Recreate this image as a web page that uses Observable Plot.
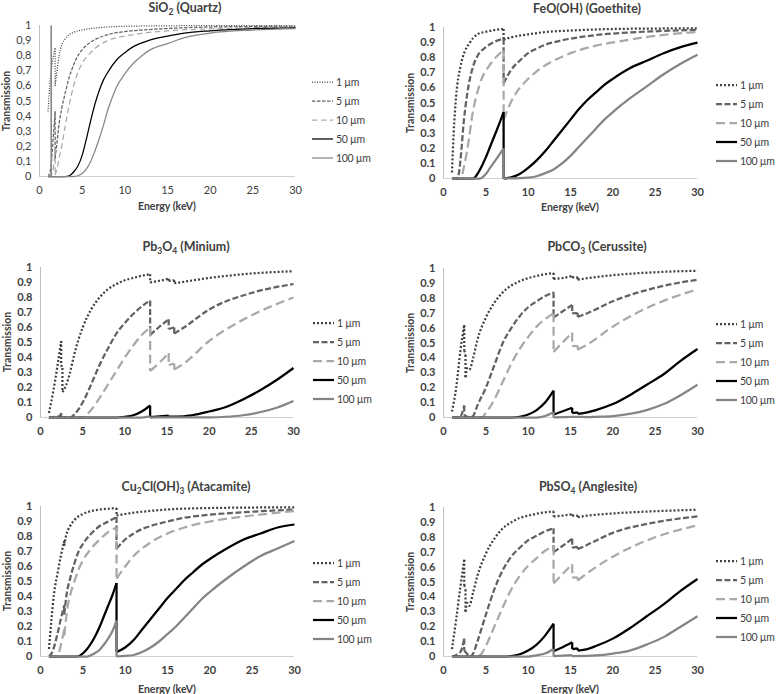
<!DOCTYPE html>
<html>
<head>
<meta charset="utf-8">
<script src="https://cdn.jsdelivr.net/npm/d3@7"></script>
<script src="https://cdn.jsdelivr.net/npm/@observablehq/plot@0.6"></script>
<style>
  body { margin: 0; background: #fff; }
  #chart { position: relative; width: 778px; height: 694px; font-family: Lato, "Open Sans", sans-serif; color: #404040; overflow: hidden; }
  .ttl { position: absolute; font-weight: bold; font-size: 12.5px; white-space: nowrap; transform: translate(-50%, -50%); color: #404040; }
  .ttl span.sb { font-size: 8.5px; vertical-align: -3px; }
  .ax { position: absolute; font-weight: bold; font-size: 10.5px; white-space: nowrap; transform: translate(-50%, -50%); color: #404040; }
  .ax.rot { transform: translate(-50%, -50%) rotate(-90deg); }
  .lg { position: absolute; font-size: 10.5px; letter-spacing: -0.3px; white-space: pre; display: flex; align-items: center; height: 14px; color: #404040; }
  .lg svg { margin-right: 3px; }
</style>
</head>
<body>
<div id="chart"></div>
<script>
// ---------- tick values and labels ----------
const yTicks = [0, 0.1, 0.2, 0.3, 0.4, 0.5, 0.6, 0.7, 0.8, 0.9, 1];
const yTickLabelsDot = ["0", "0.1", "0.2", "0.3", "0.4", "0.5", "0.6", "0.7", "0.8", "0.9", "1"];
const yTickLabelsComma = ["0", "0,1", "0,2", "0,3", "0,4", "0,5", "0,6", "0,7", "0,8", "0,9", "1"];
const xTicks = [0, 5, 10, 15, 20, 25, 30];
const seriesNames = ["1 µm", "5 µm", "10 µm", "50 µm", "100 µm"];

// ---------- data: [energy keV, transmission] ----------
// SiO2 (Quartz)
const quartz1 = [[1,0.43],[1.2,0.6],[1.5,0.75],[1.83,0.85],[1.83,0.6],[2,0.68],[2.3,0.8],[2.65,0.88],[3,0.91],[3.5,0.94],[4,0.955],[5,0.97],[6,0.98],[8,0.99],[10,0.995],[15,0.998],[30,1]];
const quartz5 = [[1,0],[1.3,0.05],[1.6,0.25],[1.83,0.43],[1.83,0.12],[2,0.2],[2.3,0.35],[2.6,0.45],[3,0.55],[3.5,0.66],[4,0.74],[4.5,0.8],[5,0.84],[6,0.89],[7,0.92],[8,0.94],[10,0.96],[12,0.97],[15,0.98],[20,0.99],[30,0.995]];
const quartz10 = [[1,0],[1.5,0.02],[1.83,0.18],[1.83,0.01],[2,0.04],[2.3,0.12],[2.6,0.2],[3,0.33],[3.5,0.48],[4,0.6],[4.5,0.69],[5,0.75],[6,0.82],[7,0.87],[8,0.9],[10,0.93],[12,0.948],[15,0.965],[20,0.978],[30,0.99]];
const quartz50 = [[1,0],[3,0],[3.5,0.005],[4,0.03],[4.5,0.07],[5,0.14],[5.5,0.25],[6,0.37],[6.5,0.48],[7,0.57],[7.5,0.64],[8,0.69],[9,0.77],[10,0.82],[11,0.86],[12,0.885],[13,0.905],[15,0.93],[17,0.95],[20,0.965],[25,0.98],[30,0.985]];
const quartz100 = [[1,0],[1.38,0],[1.38,1],[1.38,0],[4,0],[4.5,0.005],[5,0.02],[5.5,0.05],[6,0.1],[6.5,0.17],[7,0.25],[7.5,0.34],[8,0.44],[8.5,0.52],[9,0.59],[10,0.68],[11,0.75],[12,0.8],[13,0.84],[15,0.88],[17,0.92],[20,0.95],[25,0.97],[30,0.98]];

// FeO(OH) (Goethite)
const goethite1 = [[1,0.04],[1.2,0.3],[1.5,0.55],[2,0.74],[2.5,0.84],[3,0.89],[3.5,0.93],[4,0.955],[5,0.972],[6,0.983],[7.1,0.99],[7.1,0.92],[8,0.935],[10,0.955],[12,0.97],[15,0.98],[20,0.99],[25,0.993],[30,0.995]];
const goethite5 = [[1,0],[1.5,0],[1.8,0.03],[2,0.12],[2.4,0.38],[2.8,0.56],[3.2,0.68],[3.6,0.76],[4,0.81],[5,0.87],[6,0.905],[7.1,0.925],[7.1,0.63],[8,0.72],[9,0.78],[10,0.83],[11,0.86],[12,0.885],[14,0.915],[16,0.935],[18,0.95],[20,0.96],[25,0.975],[30,0.985]];
const goethite10 = [[1,0],[2,0],[2.5,0.1],[3,0.26],[3.4,0.42],[4,0.57],[4.5,0.66],[5.2,0.73],[6.3,0.81],[7.1,0.85],[7.1,0.39],[8,0.51],[9,0.6],[10,0.66],[11,0.71],[13,0.78],[15,0.83],[18,0.88],[21,0.91],[25,0.945],[30,0.97]];
const goethite50 = [[1,0],[3.5,0],[4,0.03],[4.5,0.08],[5,0.14],[5.5,0.21],[6,0.28],[6.5,0.35],[7.1,0.44],[7.1,0],[7.5,0.003],[8,0.008],[9,0.03],[10,0.07],[11,0.12],[12,0.18],[13,0.25],[14,0.32],[15,0.39],[16,0.46],[17,0.52],[18,0.57],[19,0.62],[20,0.66],[22,0.73],[24,0.78],[26,0.83],[28,0.87],[30,0.9]];
const goethite100 = [[1,0],[4.3,0],[5,0.03],[5.5,0.07],[6,0.11],[6.5,0.15],[7.1,0.2],[7.1,0],[9,0.002],[10,0.006],[11,0.015],[12,0.035],[13,0.06],[14,0.1],[15,0.15],[16,0.21],[17,0.27],[18,0.33],[19,0.39],[20,0.44],[22,0.53],[24,0.61],[26,0.69],[28,0.76],[30,0.82]];

// Pb3O4 (Minium)
const minium1 = [[1,0.03],[1.5,0.17],[2,0.34],[2.45,0.51],[2.45,0.35],[2.6,0.33],[2.6,0.17],[3,0.21],[3.5,0.3],[4,0.42],[5,0.6],[6,0.72],[7,0.8],[8,0.855],[9,0.89],[10,0.915],[11,0.93],[12,0.945],[13,0.955],[13,0.9],[14,0.91],[15.2,0.925],[15.2,0.91],[15.86,0.915],[15.86,0.895],[17,0.905],[20,0.93],[25,0.96],[30,0.975]];
const minium5 = [[1,0],[2.3,0.01],[2.45,0.03],[2.45,0],[3.5,0],[4,0.02],[5,0.1],[6,0.22],[7,0.35],[8,0.46],[9,0.56],[10,0.63],[11,0.69],[12,0.74],[13,0.78],[13,0.55],[14,0.6],[15.2,0.655],[15.2,0.59],[15.86,0.6],[15.86,0.56],[17,0.6],[20,0.72],[25,0.83],[30,0.89]];
const minium10 = [[1,0],[5,0],[5.5,0.02],[6,0.05],[7,0.13],[8,0.22],[9,0.31],[10,0.4],[11,0.48],[12,0.55],[13,0.6],[13,0.31],[14,0.36],[15.2,0.43],[15.2,0.35],[15.86,0.36],[15.86,0.32],[17,0.36],[20,0.51],[25,0.68],[30,0.8]];
const minium50 = [[1,0],[9,0],[10,0.005],[11,0.015],[12,0.04],[13,0.08],[13,0.003],[15.2,0.012],[15.2,0.006],[17,0.008],[18,0.015],[20,0.04],[22,0.07],[24,0.12],[26,0.18],[28,0.25],[30,0.33]];
const minium100 = [[1,0],[12,0],[13,0.007],[13,0],[20,0.001],[22,0.005],[24,0.015],[26,0.035],[28,0.065],[30,0.11]];

// PbCO3 (Cerussite)
const cerussite1 = [[1,0.04],[1.5,0.2],[2,0.45],[2.45,0.62],[2.45,0.45],[2.6,0.42],[2.6,0.27],[2.8,0.33],[3.05,0.32],[3.5,0.4],[4,0.52],[5,0.67],[6,0.77],[7,0.84],[8,0.885],[9,0.915],[10,0.935],[11,0.95],[12,0.962],[13,0.97],[13,0.93],[14,0.935],[15.2,0.95],[15.2,0.94],[15.86,0.94],[15.86,0.925],[17,0.935],[20,0.955],[25,0.975],[30,0.985]];
const cerussite5 = [[1,0],[2,0.01],[2.45,0.08],[2.45,0.02],[2.6,0.01],[3.2,0],[3.5,0.01],[4,0.08],[5,0.2],[6,0.35],[7,0.5],[8,0.6],[9,0.68],[10,0.74],[11,0.78],[12,0.815],[13,0.84],[13,0.67],[14,0.71],[15.2,0.755],[15.2,0.7],[15.86,0.7],[15.86,0.675],[17,0.7],[20,0.78],[25,0.87],[30,0.925]];
const cerussite10 = [[1,0],[4.5,0],[5,0.03],[6,0.12],[7,0.24],[8,0.36],[9,0.46],[10,0.54],[11,0.61],[12,0.66],[13,0.7],[13,0.44],[14,0.5],[15.2,0.57],[15.2,0.48],[15.86,0.48],[15.86,0.455],[17,0.49],[20,0.61],[25,0.76],[30,0.86]];
const cerussite50 = [[1,0],[8,0],[9,0.005],[10,0.02],[11,0.05],[12,0.1],[13,0.18],[13,0.02],[14,0.04],[15.2,0.065],[15.2,0.03],[15.86,0.035],[15.86,0.025],[17,0.035],[18,0.05],[20,0.09],[22,0.15],[24,0.22],[26,0.29],[28,0.38],[30,0.46]];
const cerussite100 = [[1,0],[11,0],[12,0.01],[13,0.035],[13,0.001],[15.2,0.005],[17,0.003],[18,0.005],[20,0.01],[22,0.025],[24,0.05],[26,0.09],[28,0.15],[30,0.22]];

// Cu2Cl(OH)3 (Atacamite)
const atacamite1 = [[1,0.05],[1.3,0.25],[1.6,0.42],[2,0.55],[2.4,0.67],[2.8,0.77],[2.8,0.74],[3,0.8],[3.5,0.87],[4,0.91],[5,0.95],[6,0.97],[7,0.98],[8,0.985],[8.98,0.99],[8.98,0.94],[10,0.95],[12,0.965],[15,0.98],[20,0.99],[25,0.993],[30,0.995]];
const atacamite5 = [[1,0],[1.4,0.03],[2,0.15],[2.4,0.25],[2.8,0.34],[2.8,0.28],[3.1,0.42],[3.5,0.52],[4,0.62],[4.5,0.7],[5,0.75],[6,0.82],[7,0.87],[8,0.9],[8.98,0.93],[8.98,0.72],[10,0.78],[11,0.82],[12,0.85],[13,0.87],[15,0.9],[17,0.925],[20,0.945],[25,0.965],[30,0.98]];
const atacamite10 = [[1,0],[2,0],[2.2,0.03],[2.5,0.1],[2.8,0.18],[2.8,0.14],[3.2,0.33],[3.5,0.41],[4,0.5],[4.5,0.58],[5,0.64],[6,0.72],[7,0.78],[8,0.83],[8.98,0.86],[8.98,0.52],[10,0.6],[11,0.67],[12,0.72],[13,0.76],[15,0.82],[17,0.86],[20,0.9],[25,0.94],[30,0.97]];
const atacamite50 = [[1,0],[4.3,0],[5,0.02],[5.5,0.05],[6,0.09],[6.5,0.14],[7,0.2],[7.5,0.27],[8,0.34],[8.5,0.41],[8.98,0.49],[8.98,0.03],[10,0.06],[11,0.11],[12,0.18],[13,0.25],[14,0.32],[15,0.39],[16,0.45],[17,0.51],[18,0.56],[19,0.61],[20,0.65],[22,0.72],[24,0.78],[26,0.82],[28,0.86],[30,0.88]];
const atacamite100 = [[1,0],[5.5,0],[6,0.01],[6.5,0.025],[7,0.045],[7.5,0.08],[8,0.12],[8.5,0.17],[8.98,0.24],[8.98,0],[10,0.004],[11,0.01],[12,0.03],[13,0.06],[14,0.1],[15,0.15],[16,0.2],[17,0.26],[18,0.32],[19,0.38],[20,0.43],[22,0.52],[24,0.6],[26,0.67],[28,0.72],[30,0.77]];

// PbSO4 (Anglesite)
const anglesite1 = [[1,0.05],[1.5,0.25],[2,0.47],[2.45,0.65],[2.45,0.48],[2.6,0.45],[2.6,0.3],[2.8,0.36],[3.05,0.34],[3.5,0.43],[4,0.54],[5,0.69],[6,0.79],[7,0.86],[8,0.9],[9,0.93],[10,0.945],[11,0.958],[12,0.968],[13,0.975],[13,0.94],[14,0.945],[15.2,0.955],[15.2,0.945],[15.86,0.945],[15.86,0.935],[17,0.945],[20,0.96],[25,0.975],[30,0.985]];
const anglesite5 = [[1,0],[2,0.03],[2.45,0.12],[2.45,0.04],[2.6,0.03],[3.2,0],[3.5,0.02],[4,0.1],[5,0.28],[6,0.45],[7,0.58],[8,0.67],[9,0.73],[10,0.78],[11,0.81],[12,0.84],[13,0.86],[13,0.7],[14,0.74],[15.2,0.79],[15.2,0.73],[15.86,0.735],[15.86,0.72],[17,0.75],[20,0.83],[25,0.9],[30,0.94]];
const anglesite10 = [[1,0],[4,0],[4.5,0.02],[5,0.07],[6,0.2],[7,0.33],[8,0.45],[9,0.54],[10,0.61],[11,0.66],[12,0.71],[13,0.74],[13,0.49],[14,0.55],[15.2,0.62],[15.2,0.53],[15.86,0.53],[15.86,0.51],[17,0.56],[20,0.67],[25,0.8],[30,0.88]];
const anglesite50 = [[1,0],[7.5,0],[8,0.003],[9,0.015],[10,0.04],[11,0.08],[12,0.14],[13,0.22],[13,0.035],[14,0.06],[15.2,0.095],[15.2,0.05],[15.86,0.055],[15.86,0.04],[17,0.05],[18,0.07],[20,0.12],[22,0.19],[24,0.27],[26,0.35],[28,0.44],[30,0.52]];
const anglesite100 = [[1,0],[10,0],[11,0.008],[12,0.02],[13,0.05],[13,0.002],[15.2,0.01],[15.2,0.003],[17,0.004],[18,0.007],[20,0.02],[22,0.04],[24,0.08],[26,0.13],[28,0.2],[30,0.27]];

// ---------- styling ----------
const seriesColors = ["#404040", "#626262", "#a9a9a9", "#000000", "#858585"];
const dashThick = ["2 2", "6 2.5", "9 4.5", null, null];
const dashThin = ["1 1.5", "3.5 1.5", "5.5 3.5", null, null];

const panels = [
  {title: 'SiO<span class="sb">2</span> (Quartz)', data: [quartz1, quartz5, quartz10, quartz50, quartz100], left: 39, top: 25, w: 256, h: 151, comma: true, thin: true, titleX: 185, titleY: 8, legendY: 82, xlabY: 206},
  {title: 'FeO(OH) (Goethite)', data: [goethite1, goethite5, goethite10, goethite50, goethite100], left: 443, top: 27, w: 254, h: 151, comma: false, thin: false, titleX: 587, titleY: 8, legendY: 85, xlabY: 207},
  {title: 'Pb<span class="sb">3</span>O<span class="sb">4</span> (Minium)', data: [minium1, minium5, minium10, minium50, minium100], left: 40, top: 267, w: 253, h: 150, comma: false, thin: false, titleX: 186, titleY: 247, legendY: 323, xlabY: null},
  {title: 'PbCO<span class="sb">3</span> (Cerussite)', data: [cerussite1, cerussite5, cerussite10, cerussite50, cerussite100], left: 443, top: 268, w: 254, h: 149, comma: false, thin: false, titleX: 597, titleY: 247, legendY: 324, xlabY: null},
  {title: 'Cu<span class="sb">2</span>Cl(OH)<span class="sb">3</span> (Atacamite)', data: [atacamite1, atacamite5, atacamite10, atacamite50, atacamite100], left: 40, top: 506, w: 254, h: 150, comma: false, thin: false, titleX: 186, titleY: 487, legendY: 563, xlabY: 689},
  {title: 'PbSO<span class="sb">4</span> (Anglesite)', data: [anglesite1, anglesite5, anglesite10, anglesite50, anglesite100], left: 443, top: 507, w: 254, h: 149, comma: false, thin: false, titleX: 588, titleY: 487, legendY: 561, xlabY: 689}
];

// split a series at absorption edges (repeated energies) so each smooth piece is drawn separately
function toRows(pts, s) {
  const rows = [];
  let seg = 0;
  pts.forEach((p, i) => {
    if (i > 0 && p[0] === pts[i - 1][0]) {
      seg++;
      rows.push({E: pts[i - 1][0], T: pts[i - 1][1], key: s + "-" + seg});
      rows.push({E: p[0], T: p[1], key: s + "-" + seg});
      seg++;
    }
    rows.push({E: p[0], T: p[1], key: s + "-" + seg});
  });
  return rows;
}

const chart = document.getElementById("chart");
const ML = 40, MR = 6, MT = 8, MB = 24;

panels.forEach((pn) => {
  const labels = pn.comma ? yTickLabelsComma : yTickLabelsDot;
  const sw = pn.thin ? 1.25 : 2.25;
  const dashes = pn.thin ? dashThin : dashThick;
  const lineMarks = pn.data.map((pts, s) => Plot.line(toRows(pts, s), {
    x: "E", y: "T", z: "key", curve: "monotone-x",
    stroke: seriesColors[s], strokeWidth: sw,
    strokeDasharray: dashes[s] || undefined, strokeLinecap: "butt", strokeLinejoin: "round"
  }));
  const svg = Plot.plot({
    width: ML + pn.w + MR,
    height: MT + pn.h + MB,
    marginLeft: ML, marginRight: MR, marginTop: MT, marginBottom: MB,
    x: {domain: [0, 30]},
    y: {domain: [0, 1]},
    style: {fontFamily: 'Lato, "Open Sans", sans-serif', fontSize: "11px", fontWeight: pn.comma ? "normal" : "bold", color: "#404040", background: "transparent", overflow: "visible"},
    marks: [
      Plot.ruleY([0], {x1: 0, x2: 30, stroke: "#d0d0d0", strokeWidth: 1}),
      Plot.ruleX([0], {y1: 0, y2: 1, stroke: "#bfbfbf", strokeWidth: 1}),
      Plot.axisY(yTicks, {anchor: "left", tickSize: 0, tickPadding: 8, label: null, tickFormat: (d) => labels[Math.round(d * 10)]}),
      Plot.axisX(xTicks, {anchor: "bottom", tickSize: 0, tickPadding: 10, label: null}),
      ...lineMarks
    ]
  });
  svg.style.position = "absolute";
  svg.style.left = (pn.left - ML) + "px";
  svg.style.top = (pn.top - MT) + "px";
  chart.appendChild(svg);

  // title
  const t = document.createElement("div");
  t.className = "ttl";
  t.innerHTML = pn.title;
  t.style.left = pn.titleX + "px";
  t.style.top = pn.titleY + "px";
  chart.appendChild(t);

  // y axis title
  const yl = document.createElement("div");
  yl.className = "ax rot";
  yl.textContent = "Transmission";
  yl.style.left = (pn.left - 33) + "px";
  yl.style.top = (pn.top + pn.h / 2) + "px";
  chart.appendChild(yl);

  // x axis title
  if (pn.xlabY !== null) {
    const xl = document.createElement("div");
    xl.className = "ax";
    xl.textContent = "Energy (keV)";
    xl.style.left = (pn.left + pn.w / 2) + "px";
    xl.style.top = pn.xlabY + "px";
    chart.appendChild(xl);
  }

  // legend
  const lgLeft = pn.left + 273;
  seriesNames.forEach((name, s) => {
    const d = document.createElement("div");
    d.className = "lg";
    d.style.left = lgLeft + "px";
    d.style.top = (pn.legendY + s * 19 - 7) + "px";
    const dash = dashes[s] ? `stroke-dasharray="${dashes[s]}"` : "";
    d.innerHTML = `<svg width="21" height="10"><line x1="0" x2="21" y1="5" y2="5" stroke="${seriesColors[s]}" stroke-width="${sw}" ${dash}/></svg><span>${name}</span>`;
    chart.appendChild(d);
  });
});
</script>
</body>
</html>
